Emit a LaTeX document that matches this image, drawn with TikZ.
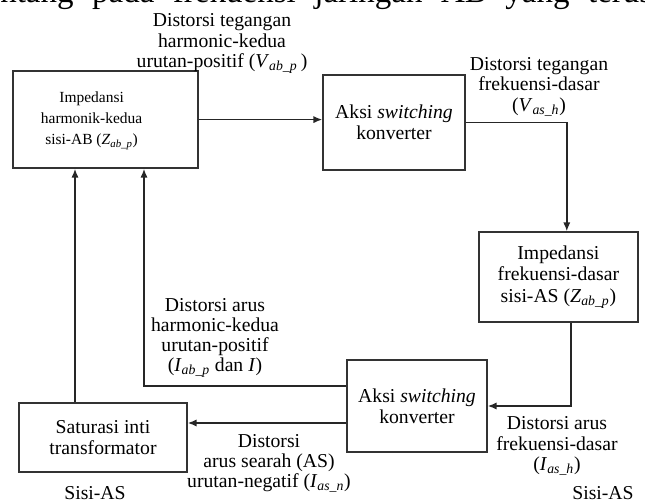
\documentclass[tikz,border=0pt]{standalone}
\usepackage{fontspec}
\setmainfont{Liberation Serif}
\usetikzlibrary{arrows.meta, positioning, calc}
\newcommand{\dsym}[2]{\textit{#1}\textsubscript{\textit{#2}}}

\begin{document}
\begin{tikzpicture}[
  blok/.style={rectangle, draw=black!80, line width=1.1pt, align=center, inner sep=2pt, font=\fontsize{14}{15.2}\selectfont},
  lbl/.style={align=center, inner sep=0pt, font=\fontsize{14}{14.4}\selectfont},
  panah/.style={draw=black!85, line width=1pt, -{Latex[length=2.2mm,width=1.8mm]}}
]
  \useasboundingbox (0,0) rectangle (16.125,12.55);

  % Header line (cut off at the top)
  \node[anchor=base west, inner sep=0pt, font=\fontsize{23.5}{27}\selectfont] (judul) at (0,12.48)
    {\makebox[16.3cm][s]{ntang pada frekuensi jaringan AB yang terus}};

  % Blocks
  \node[blok, minimum width=4.625cm, minimum height=2.425cm, font=\fontsize{11}{15}\selectfont] (zab) at (2.64,9.56)
    {\begin{tabular}{@{}c@{}}Impedansi\\harmonik-kedua\\sisi-AB (\dsym{Z}{ab\_p})\end{tabular}\hspace*{0.7cm}};
  \node[blok, minimum width=3.55cm, minimum height=2.375cm] (sw1) at (9.85,9.49)
    {Aksi \textit{switching}\\konverter};
  \node[blok, minimum width=3.975cm, minimum height=2.25cm] (zas) at (13.96,5.625)
    {Impedansi\\frekuensi-dasar\\sisi-AS (\dsym{Z}{ab\_p})};
  \node[blok, minimum width=3.5cm, minimum height=2.3cm] (sw2) at (10.425,2.4)
    {Aksi \textit{switching}\\konverter};
  \node[blok, minimum width=4.2cm, minimum height=1.725cm] (sat) at (2.575,1.61)
    {Saturasi inti\\transformator};

  % Connectors
  \coordinate (tk) at (3.6,2.9);
  \coordinate (tr) at ([xshift=-0.7cm]sat.north);
  \draw[panah] (zab.east) -- (zab.east -| sw1.west);
  \draw[panah] (sw1.east) -| ([xshift=0.21cm]zas.north);
  \draw[panah] ([xshift=0.31cm]zas.south) |- (sw2.east);
  \draw[panah] ([yshift=0.5cm]sw2.west) -| (tk |- zab.south);
  \draw[panah] ([yshift=-0.425cm]sw2.west) -- ([yshift=-0.425cm]sw2.west -| sat.east);
  \draw[panah] (tr) -- (tr |- zab.south);

  % Labels
  \node[lbl] (l1) at (5.55,11.46) {Distorsi tegangan\\harmonic-kedua\\urutan-positif (\dsym{V}{ab\_p}\,)};
  \node[lbl] (l2) at (13.475,10.38) {Distorsi tegangan\\frekuensi-dasar\\(\dsym{V}{as\_h})};
  \node[lbl] (l3) at (5.375,4.1) {Distorsi arus\\harmonic-kedua\\urutan-positif\\(\dsym{I}{ab\_p} dan \textit{I})};
  \node[lbl] (l4) at (6.725,0.96) {Distorsi\\arus searah (AS)\\urutan-negatif (\dsym{I}{as\_n})};
  \node[lbl] (l5) at (13.925,1.4) {Distorsi arus\\frekuensi-dasar\\(\dsym{I}{as\_h})};
  \foreach \x/\n in {2.375/sisiL, 15.075/sisiR}
    \node[lbl] (\n) at (\x,0.225) {Sisi-AS};
\end{tikzpicture}
\end{document}
